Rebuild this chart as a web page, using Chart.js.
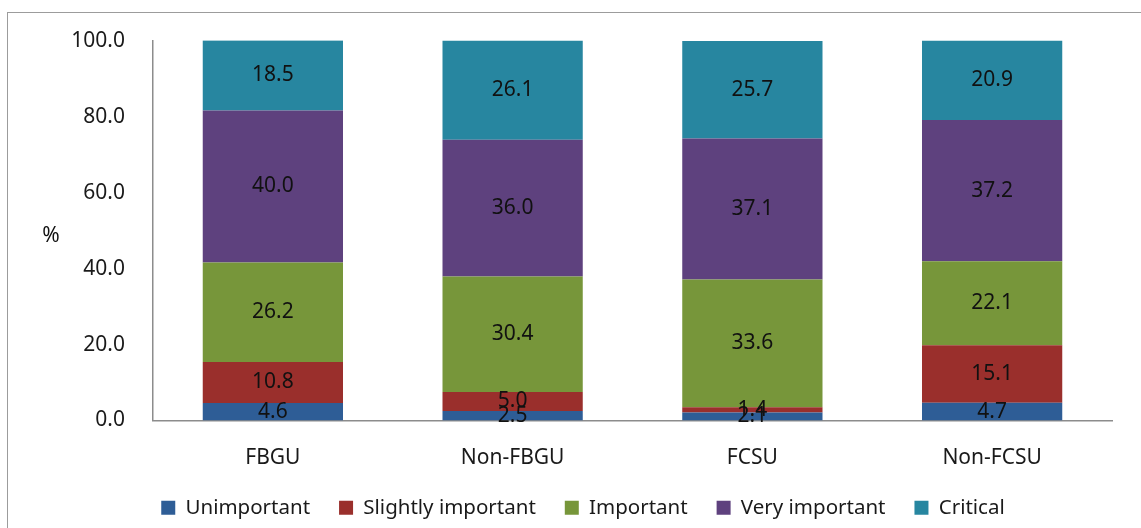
<!DOCTYPE html>
<html>
<head>
<meta charset="utf-8">
<script src="https://cdn.jsdelivr.net/npm/chart.js@4.4.1/dist/chart.umd.min.js"></script>
<style>
  body { margin: 0; background: #fff; }
  #wrap { position: relative; width: 1141px; height: 528px; overflow: hidden; }
  #frame { position: absolute; left: 7px; top: 12px; width: 1200px; height: 600px; border: 1px solid #9c9c9c; }
  canvas { position: absolute; left: 0; top: 0; }
</style>
</head>
<body>
<div id="wrap">
  <div id="frame"></div>
  <canvas id="myChart" width="1141" height="528"></canvas>
</div>
<script>
// DATA
const groups = ["FBGU", "Non-FBGU", "FCSU", "Non-FCSU"];
const seriesNames = ["Unimportant", "Slightly important", "Important", "Very important", "Critical"];
const unimportant = [4.6, 2.5, 2.1, 4.7];
const slightlyImportant = [10.8, 5.0, 1.4, 15.1];
const important = [26.2, 30.4, 33.6, 22.1];
const veryImportant = [40.0, 36.0, 37.1, 37.2];
const critical = [18.5, 26.1, 25.7, 20.9];
const yTicks = [0, 20, 40, 60, 80, 100];

const seriesValues = [unimportant, slightlyImportant, important, veryImportant, critical];
const seriesColors = ["#2e5d96", "#9a2f2c", "#77963a", "#5e417e", "#2786a0"];
const fontName = "'Noto Sans', 'DejaVu Sans', sans-serif";

// LABELS ON THE BARS
const barLabels = {
  id: "barLabels",
  afterDatasetsDraw(chart) {
    const c = chart.ctx;
    c.save();
    c.font = "21px " + fontName;
    c.fillStyle = "#111";
    c.textAlign = "center";
    c.textBaseline = "middle";
    chart.data.datasets.forEach((ds, i) => {
      chart.getDatasetMeta(i).data.forEach((bar, j) => {
        const mid = (bar.y + bar.base) / 2;
        c.fillText(ds.data[j].toFixed(1), bar.x, mid);
      });
    });
    // % axis label
    c.fillText("%", 51, 236);
    c.restore();
  },
};

const ctx = document.querySelector("#myChart");
new Chart(ctx, {
  type: "bar",
  data: {
    labels: groups,
    datasets: seriesNames.map((name, i) => ({
      label: name,
      data: seriesValues[i],
      backgroundColor: seriesColors[i],
      barPercentage: 0.585,
      categoryPercentage: 1,
    })),
  },
  options: {
    responsive: false,
    animation: false,
    layout: { padding: { left: 54, right: 29, top: 40, bottom: 0 } },
    scales: {
      x: {
        stacked: true,
        grid: { display: false, drawTicks: false },
        border: { color: "#8c8c8c", width: 1.5 },
        ticks: { color: "#1a1a1a", font: { family: fontName, size: 21 }, padding: 25 },
        afterFit: (scale) => { scale.height = 48; },
      },
      y: {
        stacked: true,
        min: 0,
        max: 100,
        afterBuildTicks: (scale) => { scale.ticks = yTicks.map((v) => ({ value: v })); },
        grid: { display: false, drawTicks: false },
        border: { color: "#8c8c8c", width: 1.5 },
        ticks: {
          color: "#1a1a1a",
          font: { family: fontName, size: 21 },
          padding: 28,
          callback: (v) => v.toFixed(1),
        },
        afterFit: (scale) => { scale.width = 99; },
      },
    },
    plugins: {
      legend: {
        position: "bottom",
        labels: {
          color: "#1a1a1a",
          font: { family: fontName, size: 20.5 },
          boxWidth: 14,
          boxHeight: 14,
          padding: 29,
        },
      },
      tooltip: { enabled: false },
    },
  },
  plugins: [barLabels],
});
</script>
</body>
</html>
